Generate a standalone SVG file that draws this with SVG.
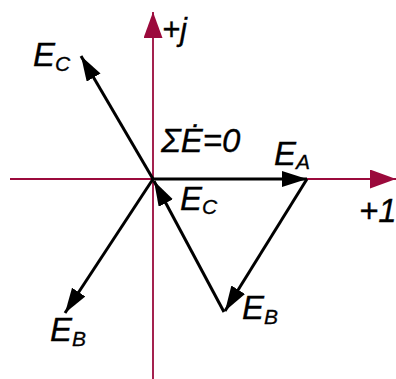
<svg xmlns="http://www.w3.org/2000/svg" width="396" height="379" viewBox="0 0 396 379">
<defs>
<style>
.axis{stroke:#9b0a3c;stroke-width:1.8;fill:none}
.vec{stroke:#000;stroke-width:3;fill:none;marker-end:url(#ah)}
.lbl{font-family:"Liberation Sans",Arial,sans-serif;font-style:italic;font-size:33px;fill:#000;stroke:#000;stroke-width:0.3}
.sub{font-size:21px}
</style>
<marker id="ah" markerUnits="userSpaceOnUse" markerWidth="30" markerHeight="20" refX="25" refY="8" orient="auto" viewBox="0 0 30 20">
<path d="M0,0 L25,8 L0,16 Z" fill="#000"/>
</marker>
<marker id="rah" markerUnits="userSpaceOnUse" markerWidth="30" markerHeight="22" refX="26" refY="9.5" orient="auto" viewBox="0 0 30 22">
<path d="M0,0 L26,9.5 L0,19 Z" fill="#9b0a3c"/>
</marker>
</defs>
<g id="axes">
<line class="axis" x1="10" y1="179" x2="396" y2="179" marker-end="url(#rah)"/>
<line class="axis" x1="153" y1="379" x2="153" y2="12" marker-end="url(#rah)"/>
</g>
<g id="connectors">
<line class="vec" x1="153" y1="179" x2="307" y2="179"/>
<line class="vec" x1="307" y1="179" x2="225" y2="311"/>
<line class="vec" x1="224" y1="312" x2="154" y2="181"/>
<line class="vec" x1="153" y1="179" x2="81" y2="56"/>
<line class="vec" x1="153" y1="179" x2="65" y2="313"/>
</g>
<g id="labels">
<text class="lbl" x="162" y="40" style="font-size:31px">+j</text>
<text class="lbl" x="359" y="222">+1</text>
<text class="lbl" x="33" y="66">E<tspan class="sub" dy="5">C</tspan></text>
<text class="lbl" x="161" y="152">ΣĖ=0</text>
<text class="lbl" x="274" y="165">E<tspan class="sub" dy="4">A</tspan></text>
<text class="lbl" x="180" y="210">E<tspan class="sub" dy="4">C</tspan></text>
<text class="lbl" x="242" y="319">E<tspan class="sub" dy="5">B</tspan></text>
<text class="lbl" x="50" y="341">E<tspan class="sub" dy="5">B</tspan></text>
</g>
</svg>
